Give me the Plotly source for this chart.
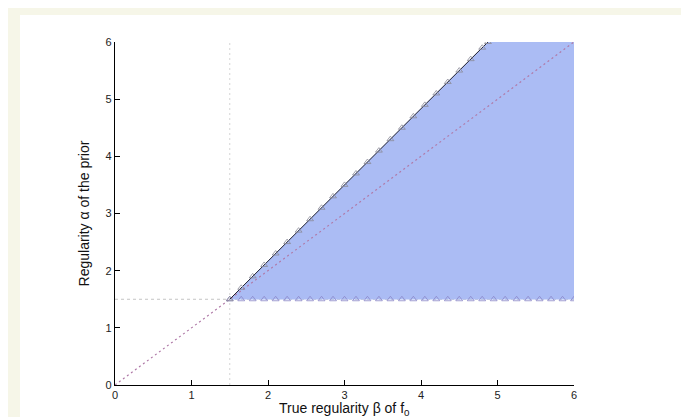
import plotly.graph_objects as go

# Upper boundary of the admissible region (beta, alpha)
upper_beta = [1.5, 1.65, 1.8, 1.95, 2.1, 2.25, 2.4, 2.55, 2.7, 2.85, 3.0, 3.15, 3.3,
              3.45, 3.6, 3.75, 3.9, 4.05, 4.2, 4.35, 4.5, 4.65, 4.8, 4.875]
upper_alpha = [1.5, 1.7, 1.9, 2.1, 2.3, 2.5, 2.7, 2.9, 3.1, 3.3, 3.5, 3.7, 3.9,
               4.1, 4.3, 4.5, 4.7, 4.9, 5.1, 5.3, 5.5, 5.7, 5.9, 6.0]
# Lower boundary
lower_beta = [1.5, 1.65, 1.8, 1.95, 2.1, 2.25, 2.4, 2.55, 2.7, 2.85, 3.0, 3.15, 3.3,
              3.45, 3.6, 3.75, 3.9, 4.05, 4.2, 4.35, 4.5, 4.65, 4.8, 4.95, 5.1, 5.25,
              5.4, 5.55, 5.7, 5.85, 6.0]
lower_alpha = [1.5] * len(lower_beta)
# Corner of region
corner_beta = [6.0, 6.0]
corner_alpha = [6.0, 1.5]
# Reference lines
diag_x = [0, 6]
diag_y = [0, 6]
vline_x = [1.5, 1.5]
vline_y = [0, 6]
hline_x = [0, 6]
hline_y = [1.5, 1.5]
ticks = [0, 1, 2, 3, 4, 5, 6]

W, H = 689, 417
L, R, T, B = 107, 123, 34, 40
pw, ph = W - L - R, H - T - B

fig = go.Figure()

fig.add_trace(go.Scatter(x=vline_x, y=vline_y, mode="lines",
                         line=dict(color="#d4d4d4", width=1, dash="2px,3px"), hoverinfo="skip"))
fig.add_trace(go.Scatter(x=hline_x, y=hline_y, mode="lines",
                         line=dict(color="#c4c4c4", width=1, dash="3px,3px"), hoverinfo="skip"))

poly_x = upper_beta + corner_beta + lower_beta[::-1]
poly_y = upper_alpha + corner_alpha + lower_alpha[::-1]
fig.add_trace(go.Scatter(x=poly_x, y=poly_y, mode="lines", fill="toself",
                         fillcolor="#abbcf4", line=dict(color="#abbcf4", width=0.5),
                         hoverinfo="skip"))

fig.add_trace(go.Scatter(x=diag_x, y=diag_y, mode="lines",
                         line=dict(color="#b07aa8", width=1.2, dash="2px,3px"), hoverinfo="skip"))

fig.add_trace(go.Scatter(x=lower_beta, y=lower_alpha, mode="markers",
                         marker=dict(symbol="triangle-up-open", size=6, color="#8a86c8",
                                     line=dict(width=0.8)), hoverinfo="skip"))
fig.add_trace(go.Scatter(x=upper_beta, y=upper_alpha, mode="lines+markers",
                         line=dict(color="#222230", width=1),
                         marker=dict(symbol="triangle-up-open", size=6, color="#8a8a98",
                                     line=dict(width=0.8)), hoverinfo="skip"))

# beige page with white panel
fig.add_shape(type="rect", xref="paper", yref="paper", layer="below",
              x0=(12 - L) / pw, x1=(W - L + 5) / pw,
              y0=-(B + 5) / ph, y1=(ph + T - 7) / ph,
              fillcolor="white", line=dict(width=0))

# x-axis title as annotation so it fits within the page
fig.add_annotation(text="True regularity β of f<sub>0</sub>", xref="paper", yref="paper",
                   x=0.5, y=-24 / ph, xanchor="center", yanchor="middle",
                   showarrow=False,
                   font=dict(family="Liberation Sans, Arial", size=14, color="#111"))

axis_common = dict(range=[0, 6], tickvals=ticks, ticks="inside", ticklen=5,
                   tickcolor="#000", tickwidth=1, showline=True, linecolor="#000",
                   linewidth=1.2, showgrid=False, zeroline=False, mirror=False,
                   tickfont=dict(family="Liberation Sans, Arial", size=11, color="#222"))

fig.update_layout(
    width=W, height=H,
    margin=dict(l=L, r=R, t=T, b=B, pad=0),
    paper_bgcolor="#f6f6e8", plot_bgcolor="white",
    showlegend=False,
    xaxis=dict(**axis_common),
    yaxis=dict(**axis_common,
               title=dict(text="Regularity α of the prior", standoff=12,
                          font=dict(family="Liberation Sans, Arial", size=14, color="#111"))),
)

fig.write_html("out.html")
